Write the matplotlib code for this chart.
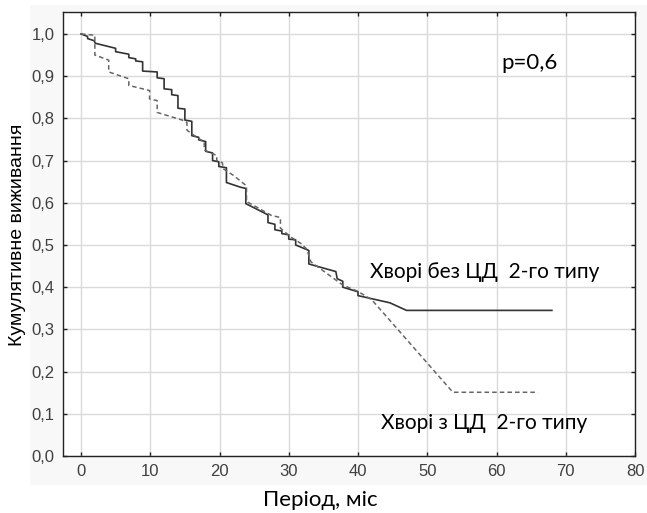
import matplotlib
matplotlib.use("Agg")
import matplotlib.pyplot as plt
from matplotlib.patches import Rectangle

# Solid line: patients without type 2 diabetes (time in months, cumulative survival)
t_no_dm = [0, 0.95, 0.95, 1.9, 2.05, 5.0, 5.0, 6.9, 6.9, 7.9, 7.9, 8.9, 8.9, 11.0, 11.0,
           12.0, 12.0, 13.1, 13.1, 14.0, 14.0, 15.0, 15.0, 16.0, 16.0, 17.0, 17.0,
           18.0, 18.0, 19.0, 19.0, 19.9, 19.9, 21.0, 21.0, 23.0, 23.8, 23.8, 26.8,
           27.0, 27.0, 28.0, 28.0, 29.0, 29.0, 30.0, 30.0, 31.0, 31.0, 32.9, 32.9,
           36.8, 37.0, 37.8, 37.8, 40.0, 40.0, 44.6, 47.0, 68.0]
s_no_dm = [1.0, 0.994, 0.989, 0.984, 0.978, 0.966, 0.958, 0.952, 0.944, 0.941, 0.936, 0.934, 0.912, 0.910, 0.896,
           0.894, 0.870, 0.868, 0.856, 0.854, 0.824, 0.822, 0.796, 0.793, 0.759, 0.755, 0.749,
           0.745, 0.722, 0.718, 0.700, 0.697, 0.686, 0.683, 0.648, 0.637, 0.634, 0.598, 0.573,
           0.571, 0.553, 0.549, 0.536, 0.533, 0.527, 0.524, 0.514, 0.512, 0.500, 0.487, 0.455,
           0.437, 0.420, 0.414, 0.400, 0.389, 0.380, 0.363, 0.345, 0.345]

# Dashed line: patients with type 2 diabetes
t_dm = [0, 2.0, 2.0, 4.0, 4.0, 6.5, 6.9, 6.9, 9.9, 9.9, 11.0, 11.0, 15.0, 15.3, 15.3,
        16.3, 17.2, 17.8, 17.8, 19.6, 19.6, 20.4, 20.6, 22.0, 23.9, 23.9, 25.0, 27.5,
        28.8, 28.8, 30.2, 31.8, 32.6, 33.2, 37.8, 40.0, 42.0, 53.7, 66.0]
s_dm = [1.0, 0.997, 0.950, 0.938, 0.910, 0.896, 0.894, 0.878, 0.866, 0.846, 0.842, 0.814, 0.794, 0.790, 0.772,
        0.760, 0.750, 0.745, 0.725, 0.712, 0.700, 0.695, 0.680, 0.665, 0.640, 0.603, 0.593, 0.570,
        0.565, 0.540, 0.520, 0.503, 0.490, 0.460, 0.405, 0.390, 0.370, 0.151, 0.151]

x_ticks = [0, 10, 20, 30, 40, 50, 60, 70, 80]
y_ticks = [0.0, 0.1, 0.2, 0.3, 0.4, 0.5, 0.6, 0.7, 0.8, 0.9, 1.0]

fig = plt.figure(figsize=(6.47, 5.13), dpi=100)
fig.patch.set_facecolor("white")
fig.add_artist(Rectangle((30 / 647, 1 - 485 / 513), 617 / 647, 480 / 513,
                         transform=fig.transFigure, facecolor="#f8f8f8",
                         edgecolor="none", zorder=-10))

ax = fig.add_axes([63 / 647, 1 - 456 / 513, (635 - 63) / 647, (456 - 12) / 513])
ax.set_facecolor("white")

ax.plot(t_no_dm, s_no_dm, color="#333333", lw=1.2, zorder=3)
ax.plot(t_dm, s_dm, color="#666666", lw=1.1, ls=(0, (3, 2)), zorder=3)

ax.set_xlim(-2.6, 80)
ax.set_ylim(0, 1.052)
ax.set_xticks(x_ticks)
ax.set_yticks(y_ticks)
ax.set_xticklabels([str(v) for v in x_ticks])
ax.set_yticklabels([f"{v:.1f}".replace(".", ",") for v in y_ticks])
ax.grid(True, color="#dadada", lw=1.0)
ax.set_axisbelow(True)
ax.tick_params(direction="in", length=3, width=1, top=True, right=True,
               labelsize=12, colors="#222222", pad=6)
for lab in ax.get_xticklabels() + ax.get_yticklabels():
    lab.set_fontfamily("Liberation Sans")
    lab.set_color("#404040")
for sp in ax.spines.values():
    sp.set_color("#222222")
    sp.set_linewidth(1.0)

ax.text(64.8, 0.931, "p=0,6", fontsize=16, family="Lato",
        ha="center", va="center", color="black")
ax.text(58.3, 0.436, "Хворі без ЦД  2-го типу", fontsize=15, family="Lato",
        ha="center", va="center", color="black")
ax.text(58.2, 0.078, "Хворі з ЦД  2-го типу", fontsize=15, family="Lato",
        ha="center", va="center", color="black")

fig.text(320 / 647, 1 - 500 / 513, "Період, міс", fontsize=16, family="Lato",
         ha="center", va="center", color="black")
fig.text(18 / 647, 1 - 235 / 513, "Кумулятивне виживання", fontsize=14,
         family="Liberation Sans", rotation=90, ha="center", va="center", color="black")

fig.savefig("out.png", dpi=100)
